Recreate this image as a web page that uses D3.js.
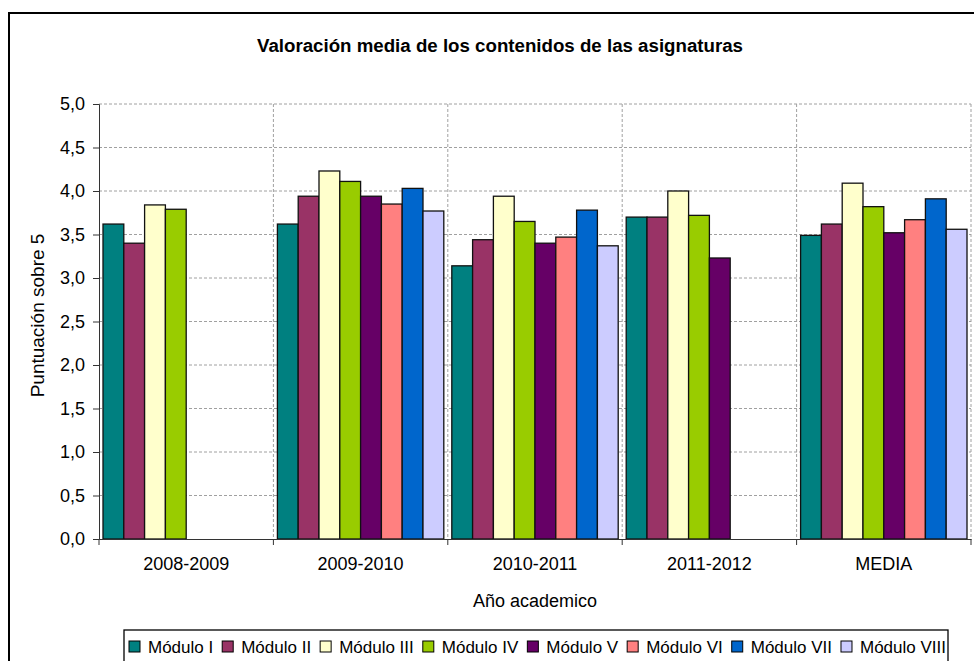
<!DOCTYPE html>
<html>
<head>
<meta charset="utf-8">
<script src="https://cdn.jsdelivr.net/npm/d3@7"></script>
<style>
  body { margin: 0; background: #fff; }
  svg { display: block; font-family: "Liberation Sans", Arial, sans-serif; }
</style>
</head>
<body>
<svg width="974" height="661"></svg>
<script>
// data
var categories = ["2008-2009", "2009-2010", "2010-2011", "2011-2012", "MEDIA"];
var seriesNames = ["Módulo I", "Módulo II", "Módulo III", "Módulo IV", "Módulo V", "Módulo VI", "Módulo VII", "Módulo VIII"];
var seriesColors = ["#008080", "#993366", "#ffffcc", "#99cc00", "#660066", "#ff8080", "#0066cc", "#ccccff"];
var modI    = [3.62, 3.62, 3.14, 3.70, 3.49];
var modII   = [3.40, 3.94, 3.44, 3.70, 3.62];
var modIII  = [3.84, 4.23, 3.94, 4.00, 4.09];
var modIV   = [3.79, 4.11, 3.65, 3.72, 3.82];
var modV    = [null, 3.94, 3.40, 3.23, 3.52];
var modVI   = [null, 3.85, 3.47, null, 3.67];
var modVII  = [null, 4.03, 3.78, null, 3.91];
var modVIII = [null, 3.77, 3.37, null, 3.56];
var yTicks = [0, 0.5, 1, 1.5, 2, 2.5, 3, 3.5, 4, 4.5, 5];

var allSeries = [modI, modII, modIII, modIV, modV, modVI, modVII, modVIII];

var svg = d3.select("svg");
var plotLeft = 99, plotRight = 971, plotTop = 104, plotBottom = 539;

// outer chart border (cut off on the right and bottom)
svg.append("rect")
    .attr("x", 9).attr("y", 13)
    .attr("width", 1000).attr("height", 700)
    .attr("fill", "none").attr("stroke", "#000").attr("stroke-width", 2);

var x = d3.scaleBand().domain(categories).range([plotLeft, plotRight]).padding(0);
var x1 = d3.scaleBand().domain(seriesNames).range([4, x.bandwidth() - 4]).padding(0);
var y = d3.scaleLinear().domain([0, 5]).range([plotBottom, plotTop]);

var fmt = function(d) { return d3.format(".1f")(d).replace(".", ","); };

// horizontal grid
svg.append("g").selectAll("line")
    .data(yTicks.slice(1))
    .enter().append("line")
    .attr("x1", plotLeft).attr("x2", plotRight)
    .attr("y1", function(d) { return y(d); })
    .attr("y2", function(d) { return y(d); })
    .attr("stroke", "#a0a0a0").attr("stroke-dasharray", "3,2");

// vertical grid at category boundaries
var bounds = categories.slice(1).map(function(c) { return x(c); }).concat([plotRight]);
svg.append("g").selectAll("line")
    .data(bounds)
    .enter().append("line")
    .attr("x1", function(d) { return d; }).attr("x2", function(d) { return d; })
    .attr("y1", plotTop).attr("y2", plotBottom)
    .attr("stroke", "#a0a0a0").attr("stroke-dasharray", "3,2");

// bars
var groups = svg.append("g").selectAll("g")
    .data(allSeries)
    .enter().append("g")
    .attr("fill", function(d, i) { return seriesColors[i]; });

groups.each(function(vals, si) {
    d3.select(this).selectAll("rect")
        .data(vals.map(function(v, ci) { return { v: v, c: categories[ci] }; }).filter(function(d) { return d.v != null; }))
        .enter().append("rect")
        .attr("x", function(d) { return x(d.c) + x1(seriesNames[si]); })
        .attr("y", function(d) { return y(d.v); })
        .attr("width", x1.bandwidth())
        .attr("height", function(d) { return y(0) - y(d.v); })
        .attr("stroke", "#111").attr("stroke-width", 1.3);
});

// y axis
var yAxis = svg.append("g")
    .attr("transform", "translate(" + plotLeft + ",0)")
    .call(d3.axisLeft(y).tickValues(yTicks).tickFormat(fmt).tickSize(6).tickPadding(8));
yAxis.select(".domain").attr("stroke", "#333");
yAxis.selectAll(".tick line").attr("stroke", "#333");
yAxis.selectAll("text").attr("font-size", 18).attr("fill", "#000")
    .attr("font-family", "Liberation Sans, Arial, sans-serif");

// x axis
var xAxis = svg.append("g")
    .attr("transform", "translate(0," + plotBottom + ")")
    .call(d3.axisBottom(x).tickSize(0).tickPadding(18));
xAxis.select(".domain").attr("stroke", "#333");
xAxis.selectAll("text").attr("font-size", 18).attr("fill", "#000")
    .attr("font-family", "Liberation Sans, Arial, sans-serif");
svg.append("g").selectAll("line")
    .data([plotLeft].concat(bounds))
    .enter().append("line")
    .attr("x1", function(d) { return d; }).attr("x2", function(d) { return d; })
    .attr("y1", plotBottom).attr("y2", plotBottom + 6)
    .attr("stroke", "#333");

// titles
svg.append("text")
    .attr("x", 500).attr("y", 52)
    .attr("text-anchor", "middle")
    .attr("font-size", 18.7).attr("font-weight", "bold")
    .text("Valoración media de los contenidos de las asignaturas");

svg.append("text")
    .attr("x", 535).attr("y", 607)
    .attr("text-anchor", "middle")
    .attr("font-size", 18)
    .text("Año academico");

svg.append("text")
    .attr("transform", "translate(44," + ((plotTop + plotBottom) / 2 - 6) + ") rotate(-90)")
    .attr("text-anchor", "middle")
    .attr("font-size", 19)
    .text("Puntuación sobre 5");

// legend
var legend = svg.append("g");
legend.append("rect")
    .attr("x", 124).attr("y", 630)
    .attr("width", 824).attr("height", 60)
    .attr("fill", "#fff").attr("stroke", "#000").attr("stroke-width", 1.3);

var lx = 129;
seriesNames.forEach(function(name, i) {
    legend.append("rect")
        .attr("x", lx).attr("y", 641)
        .attr("width", 11).attr("height", 11)
        .attr("fill", seriesColors[i]).attr("stroke", "#000");
    var t = legend.append("text")
        .attr("x", lx + 19).attr("y", 653)
        .attr("font-size", 17)
        .text(name);
    lx += 19 + t.node().getComputedTextLength() + 9;
});
</script>
</body>
</html>
